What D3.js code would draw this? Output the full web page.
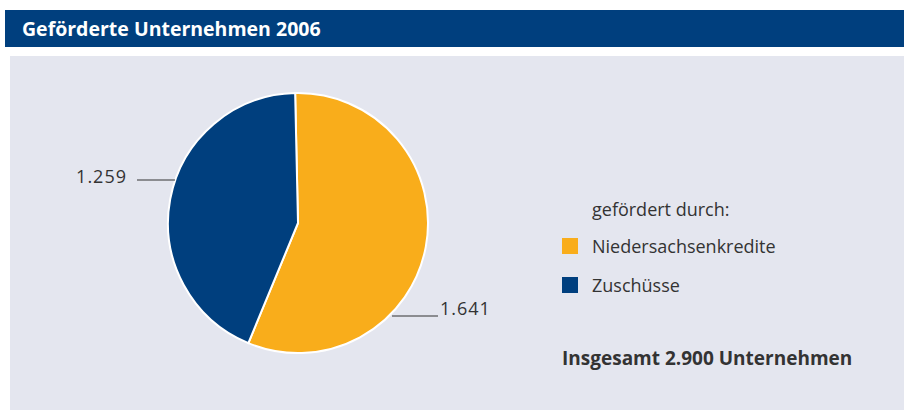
<!DOCTYPE html>
<html><head><meta charset="utf-8">
<script src="https://cdn.jsdelivr.net/npm/d3@7"></script>
<style>body{margin:0;background:#fff}svg{display:block}text{font-family:"Open Sans","Noto Sans",sans-serif}</style>
</head><body>
<script>
const title = "Geförderte Unternehmen 2006";
const categories = ["Niedersachsenkredite", "Zuschüsse"];
const values = [1641, 1259];
const valueLabels = ["1.641", "1.259"];
const colors = ["#F9AD1B", "#003F7E"];
const legendTitle = "gefördert durch:";
const totalText = "Insgesamt 2.900 Unternehmen";

const W = 904, H = 410;
const svg = d3.select("body").append("svg").attr("width", W).attr("height", H);
svg.append("rect").attr("x", 5).attr("y", 10).attr("width", W - 5).attr("height", 37).attr("fill", "#003F7E");
svg.append("text").attr("x", 22).attr("y", 36).attr("fill", "#fff").attr("font-weight", "bold").attr("font-size", 19.5).text(title);
svg.append("rect").attr("x", 10).attr("y", 56).attr("width", W - 10).attr("height", H - 56).attr("fill", "#E4E6EF");

const cx = 298, cy = 223, r = 130;
const pie = d3.pie().sort(null).startAngle(-0.022).endAngle(2 * Math.PI - 0.022);
const arcs = pie(values);
const arc = d3.arc().innerRadius(0).outerRadius(r);
const g = svg.append("g").attr("transform", `translate(${cx},${cy})`);
g.selectAll("path").data(arcs).join("path").attr("d", arc)
  .attr("fill", (d, i) => colors[i]).attr("stroke", "#fff").attr("stroke-width", 2);

// value labels with leader lines
const lab = [
  {i: 1, x1: 137, x2: 175, y: 180, tx: 127, ty: 183, anchor: "end"},
  {i: 0, x1: 392, x2: 438, y: 316, tx: 440, ty: 315, anchor: "start"}
];
lab.forEach(l => {
  svg.append("line").attr("x1", l.x1).attr("x2", l.x2).attr("y1", l.y).attr("y2", l.y).attr("stroke", "#333").attr("stroke-width", 1);
  svg.append("text").attr("x", l.tx).attr("y", l.ty).attr("text-anchor", l.anchor).attr("font-size", 18).attr("letter-spacing", 1).attr("fill", "#333").text(valueLabels[l.i]);
});

svg.append("text").attr("x", 592).attr("y", 216).attr("font-size", 18).attr("fill", "#333").text(legendTitle);
const leg = svg.append("g");
categories.forEach((c, i) => {
  const y = 246 + i * 39;
  leg.append("rect").attr("x", 562).attr("y", y - 8).attr("width", 16).attr("height", 16).attr("fill", colors[i]);
  leg.append("text").attr("x", 592).attr("y", y + 7).attr("font-size", 18).attr("fill", "#333").text(c);
});
svg.append("text").attr("x", 562).attr("y", 365).attr("font-size", 19).attr("font-weight", "bold").attr("fill", "#333").text(totalText);
</script>
</body></html>
